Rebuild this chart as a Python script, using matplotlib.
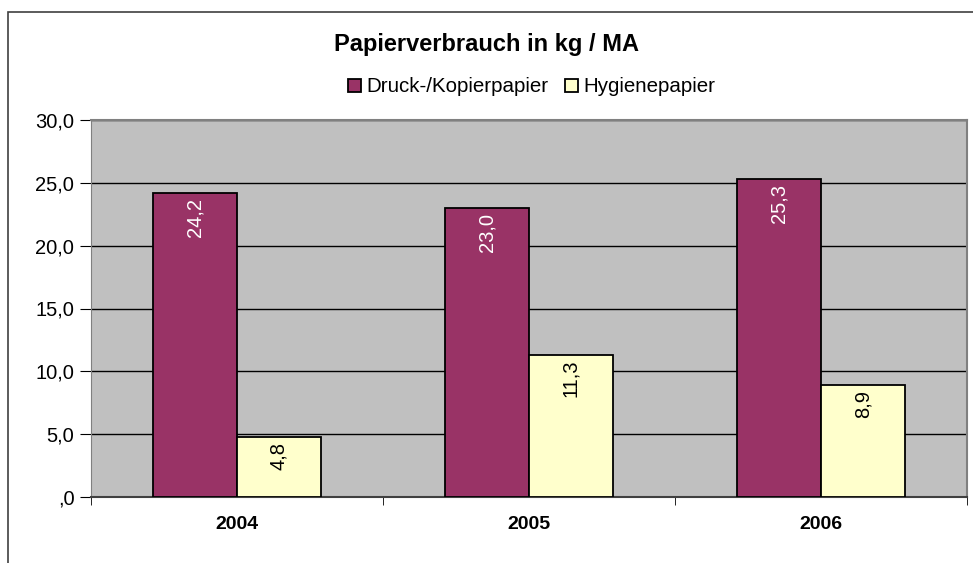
import numpy as np
import matplotlib.pyplot as plt
from matplotlib.patches import Rectangle

plt.rcParams['font.family'] = ['Liberation Sans', 'DejaVu Sans']

jahre = ['2004', '2005', '2006']
druck = [24.2, 23.0, 25.3]
hygiene = [4.8, 11.3, 8.9]
serien = ['Druck-/Kopierpapier', 'Hygienepapier']
y_ticks = [0, 5, 10, 15, 20, 25, 30]

W, H = 973, 563
fig = plt.figure(figsize=(W / 100, H / 100), dpi=100)

# äußerer Rahmen (rechts/unten außerhalb des Bildes)
fig.patches.append(Rectangle((8 / W, -0.05), 1.1, 1.05 - 12 / H,
                             transform=fig.transFigure, fill=False,
                             edgecolor='#404040', linewidth=1.2))

ax = fig.add_axes([91 / W, 1 - 497 / H, (967 - 91) / W, (497 - 120) / H])
ax.set_facecolor('#C0C0C0')

x = np.arange(len(jahre))
bw = 0.286
b1 = ax.bar(x - bw / 2, druck, bw, color='#993366', edgecolor='black', linewidth=1.3, label=serien[0], zorder=3)
b2 = ax.bar(x + bw / 2, hygiene, bw, color='#FFFFCC', edgecolor='black', linewidth=1.3, label=serien[1], zorder=3)

def wert(v):
    return f'{v:.1f}'.replace('.', ',')

for bars, werte, farbe in [(b1, druck, 'white'), (b2, hygiene, 'black')]:
    for rect, v in zip(bars, werte):
        ax.annotate(wert(v), (rect.get_x() + rect.get_width() / 2, v), xytext=(0, -3.5),
                    textcoords='offset points', rotation=90, ha='center', va='top',
                    color=farbe, fontsize=14.5, zorder=4)

ax.set_ylim(0, 30)
ax.set_xlim(-0.5, len(jahre) - 0.5)
ax.set_yticks(y_ticks)
ax.set_yticklabels([',0' if t == 0 else f'{t:.1f}'.replace('.', ',') for t in y_ticks], fontsize=14.5)
ax.yaxis.grid(True, color='black', linewidth=1)
ax.set_axisbelow(True)

ax.set_xticks(x)
ax.set_xticklabels(jahre, fontsize=14, fontweight='bold')
ax.tick_params(axis='x', length=0, pad=14)
ax.set_xticks(np.arange(-0.5, len(jahre)), minor=True)
ax.tick_params(axis='x', which='minor', length=6, color='black')
ax.tick_params(axis='y', length=8, color='black', pad=4)

for s in ['top', 'right']:
    ax.spines[s].set_color('#808080')
    ax.spines[s].set_linewidth(1.5)
ax.spines['left'].set_color('#808080')
ax.spines['bottom'].set_color('#404040')
ax.spines['bottom'].set_linewidth(1.5)

fig.text(486 / W, 1 - 45 / H, 'Papierverbrauch in kg / MA', ha='center', va='center',
         fontsize=17, fontweight='bold')
fig.legend(handles=[b1, b2], labels=serien, loc='center', bbox_to_anchor=(532 / W, 1 - 87 / H),
           ncol=2, frameon=False, fontsize=14.8, handlelength=0.6, handleheight=0.6,
           handletextpad=0.3, columnspacing=0.8, borderpad=0)

fig.savefig('out.png', dpi=100)
